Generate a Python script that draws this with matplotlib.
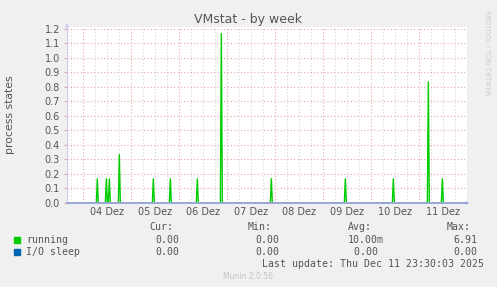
import datetime as dt

import matplotlib
matplotlib.use("Agg")
import matplotlib.dates as mdates
import matplotlib.pyplot as plt

# spike samples (everything else is 0)
spike_times = ["2025-12-04 07:00", "2025-12-04 11:30", "2025-12-04 13:00",
               "2025-12-04 18:00", "2025-12-05 11:00", "2025-12-05 19:30",
               "2025-12-06 09:00", "2025-12-06 21:00", "2025-12-07 22:00",
               "2025-12-09 11:00", "2025-12-10 11:00", "2025-12-11 04:30",
               "2025-12-11 11:30"]
spike_values = [0.1667, 0.1667, 0.1667, 0.3333, 0.1667, 0.1667, 0.1667,
                1.1667, 0.1667, 0.1667, 0.1667, 0.8333, 0.1667]
day_labels = ["04 Dez", "05 Dez", "06 Dez", "07 Dez", "08 Dez", "09 Dez",
              "10 Dez", "11 Dez"]
y_ticks = [0.0, 0.1, 0.2, 0.3, 0.4, 0.5, 0.6, 0.7, 0.8, 0.9, 1.0, 1.1, 1.2]
legend_names = ["running", "I/O sleep"]
legend_colors = ["#00cc00", "#0066b3"]
cur_vals = ["0.00", "0.00"]
min_vals = ["0.00", "0.00"]
avg_vals = ["10.00m", "0.00 "]
max_vals = ["6.91", "0.00"]

t_start = dt.datetime(2025, 12, 3, 15, 50)
t_end = dt.datetime(2025, 12, 11, 23, 50)
half = dt.timedelta(minutes=30)

# build the running line: flat zero with narrow triangles
xs, ys = [t_start], [0.0]
for s, v in zip(spike_times, spike_values):
    t = dt.datetime.strptime(s, "%Y-%m-%d %H:%M")
    xs += [t - half, t, t + half]
    ys += [0.0, v, 0.0]
xs.append(t_end); ys.append(0.0)

W, H = 497, 287
fig = plt.figure(figsize=(W / 100, H / 100), dpi=100, facecolor="#f0f0f0")
ax = fig.add_axes([67 / W, 1 - 203 / H, 400 / W, (203 - 26.5) / H])
ax.set_facecolor("white")

ax.set_xlim(t_start, t_end)
ax.set_ylim(0, 1.215)

# grid: red dotted per day / per 0.1, gray dotted every 6h
ax.xaxis.set_major_locator(mdates.DayLocator())
ax.xaxis.set_minor_locator(mdates.HourLocator(byhour=[6, 12, 18]))
ax.xaxis.set_major_formatter(plt.NullFormatter())
ax.set_yticks(y_ticks)
ax.set_yticklabels([f"{v:.1f}" for v in y_ticks])
ax.grid(which="major", axis="both", color="#e6a8a8", ls=(0, (1, 2)), lw=0.8)
ax.grid(which="minor", axis="x", color="#d4d4d4", ls=(0, (1, 2)), lw=0.8)
ax.tick_params(axis="x", which="both", length=0)
ax.tick_params(axis="y", length=2, color="#e6a8a8", labelsize=7,
               labelcolor="#555555", pad=3)

for sp in ax.spines.values():
    sp.set_visible(False)

# day labels centred on noon
for i, lab in enumerate(day_labels):
    noon = dt.datetime(2025, 12, 4 + i, 12)
    ax.text(noon, -0.025, lab, transform=ax.get_xaxis_transform(),
            ha="center", va="top", fontsize=7, color="#555555")

ax.plot(xs, ys, color=legend_colors[0], lw=1.0, zorder=3)
ax.plot([t_start, t_end], [0, 0], color=legend_colors[1], lw=1.0, zorder=2)

# axis lines with arrows (rrdtool style)
ax.axhline(0, color="#9aa8d8", lw=1.4, zorder=10, clip_on=False)
ax.axvline(t_start, color="#ccccf5", lw=1.0, zorder=4)
ax.annotate("", xy=(1.014, 0), xytext=(0.99, 0), xycoords="axes fraction",
            arrowprops=dict(arrowstyle="-|>", color="#c0c8f0", lw=0,
                            mutation_scale=8), annotation_clip=False)
ax.annotate("", xy=(0, 1.035), xytext=(0, 0.99), xycoords="axes fraction",
            arrowprops=dict(arrowstyle="-|>", color="#ccccf5", lw=0,
                            mutation_scale=8), annotation_clip=False)


def px(x, y):
    return x / W, 1 - y / H


fig.text(*px(248, 19), "VMstat - by week", ha="center", va="center",
         fontsize=9, color="#555555")
fig.text(*px(10, 115), "process states", rotation=90, ha="center",
         va="center", fontsize=7.8, color="#555555")
fig.text(*px(487, 53), "RRDTOOL / TOBI OETIKER", rotation=270, ha="center",
         va="center", fontsize=4.8, color="#cccccc")

mono = dict(family="DejaVu Sans Mono", fontsize=7.1, color="#555555",
            va="center")
fig.text(*px(149, 227), "Cur:", **mono)
fig.text(*px(248, 227), "Min:", **mono)
fig.text(*px(348, 227), "Avg:", **mono)
fig.text(*px(447, 227), "Max:", **mono)
for i, name in enumerate(legend_names):
    yy = 240 + 12 * i
    fig.patches.append(plt.Rectangle(px(14, yy + 3), 6 / W, 6 / H,
                                     transform=fig.transFigure,
                                     color=legend_colors[i]))
    fig.text(*px(26.5, yy), name, **mono)
    fig.text(*px(179.5, yy), cur_vals[i], ha="right", **mono)
    fig.text(*px(279.5, yy), min_vals[i], ha="right", **mono)
    fig.text(*px(383.5, yy), avg_vals[i], ha="right", **mono)
    fig.text(*px(477.5, yy), max_vals[i], ha="right", **mono)
fig.text(*px(262, 264), "Last update: Thu Dec 11 23:30:03 2025", **mono)
fig.text(*px(248, 276.5), "Munin 2.0.56", ha="center", va="center",
         fontsize=5.5, color="#c4c4c4")

fig.savefig("out.png", dpi=100, facecolor=fig.get_facecolor())
